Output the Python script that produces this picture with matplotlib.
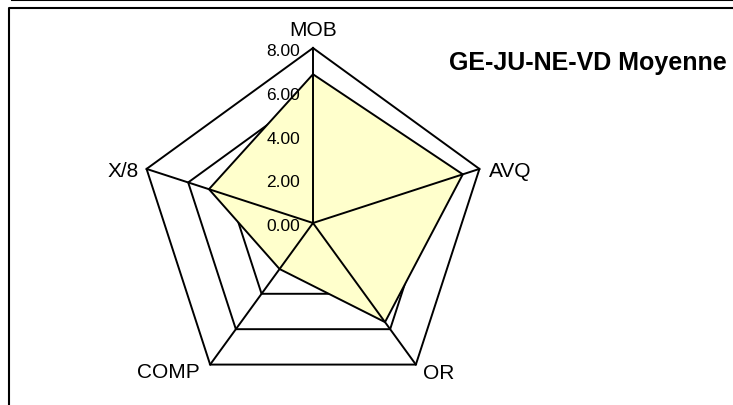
#importing modules
import numpy as np
import matplotlib.pyplot as plt
from matplotlib.lines import Line2D

# data
categories = ['MOB', 'AVQ', 'OR', 'COMP', 'X/8']
values = [6.8, 7.2, 5.6, 2.6, 5.0]
rings = [2, 4, 6, 8]
tick_values = [0, 2, 4, 6, 8]
tick_labels = ['0.00', '2.00', '4.00', '6.00', '8.00']
title = 'GE-JU-NE-VD Moyenne'

# label placement (pixels offset from the outer vertex)
label_offsets = [(0, 19, 'center'), (10, -2, 'left'), (7, -8, 'left'),
                 (-10, -7, 'right'), (-8, -2, 'right')]

plt.rcParams['font.family'] = ['Liberation Sans', 'DejaVu Sans']

W, H = 733, 406
fig = plt.figure(figsize=(W / 100, H / 100), dpi=100)
ax = fig.add_axes([0, 0, 1, 1])
s = 175 / 8  # pixels per unit
cx, cy = 313, 224
ax.set_xlim(-cx / s, (W - cx) / s)
ax.set_ylim(-(H - cy) / s, cy / s)
ax.axis('off')

n = len(categories)
ang = np.deg2rad(90 - 360 / n * np.arange(n))
ux, uy = np.cos(ang), np.sin(ang)
rmax = max(rings)
lw = 1.4

# rings behind the fill
for r in rings:
    ax.plot(np.append(ux, ux[0]) * r, np.append(uy, uy[0]) * r,
            color='black', lw=lw, zorder=1)

# filled data polygon
v = np.array(values)
ax.fill(ux * v, uy * v, facecolor='#ffffcc', edgecolor='black', lw=lw, zorder=2)

# spokes on top of the fill
for x, y in zip(ux, uy):
    ax.plot([0, x * rmax], [0, y * rmax], color='black', lw=lw, zorder=3)

# category labels
for i, name in enumerate(categories):
    dx, dy, ha = label_offsets[i]
    ax.annotate(name, (ux[i] * rmax, uy[i] * rmax), xytext=(dx * 0.72, dy * 0.72),
                textcoords='offset points', ha=ha, va='center', fontsize=15, zorder=5)

# value labels along the MOB axis
for t, lab in zip(tick_values, tick_labels):
    ax.annotate(lab, (0, t), xytext=(-13 * 0.72, -2.5 * 0.72), textcoords='offset points',
                ha='right', va='center', fontsize=12.5, zorder=4)

fig.text(449 / W, 1 - 63 / H, title, ha='left', va='center',
         fontsize=18, fontweight='bold')

# frame lines
fig.add_artist(Line2D([12 / W, 1], [1 - 0.8 / H, 1 - 0.8 / H],
                      transform=fig.transFigure, color='black', lw=1.5))
fig.add_artist(Line2D([9 / W, 9 / W, 1], [0, 1 - 8.5 / H, 1 - 8.5 / H],
                      transform=fig.transFigure, color='black', lw=1.5))

fig.savefig('out.png', dpi=100)
